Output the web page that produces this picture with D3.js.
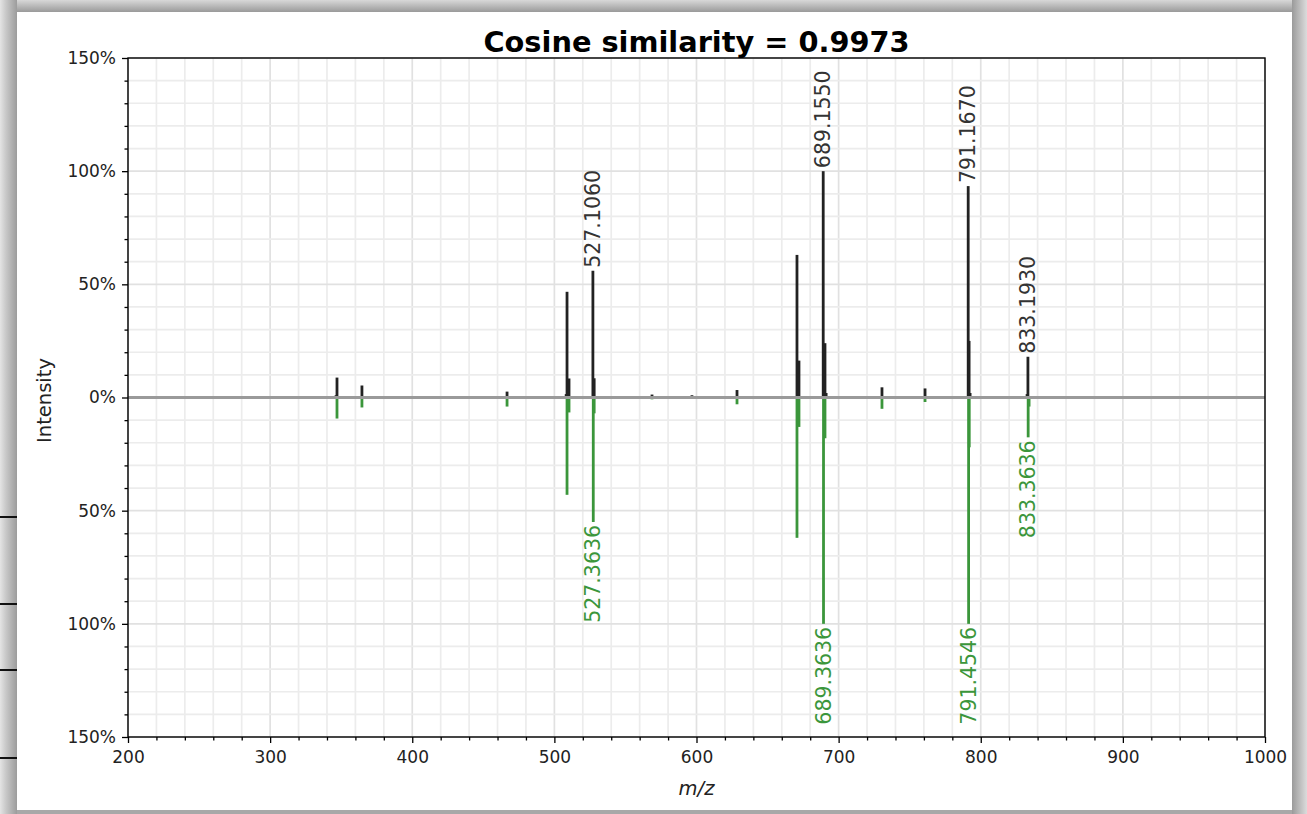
<!DOCTYPE html>
<html>
<head>
<meta charset="utf-8">
<script src="https://cdn.jsdelivr.net/npm/d3@7"></script>
<style>
  html, body { margin: 0; padding: 0; background: #ffffff; }
  svg { display: block; }
  text { font-family: "DejaVu Sans", sans-serif; }
</style>
</head>
<body>
<script>
// ---------------- DATA ----------------
const title = "Cosine similarity = 0.9973";
const xLabel = "m/z";
const yLabel = "Intensity";

// top spectrum (query), m/z and relative intensity (%)
const topMz  = [346.4, 347.05, 364.6, 406.9, 466.7, 508.3, 508.9, 510.3, 527.106, 528.0, 568.7, 596.8, 628.5,
                670.7, 672.1, 689.155, 690.4, 691.2, 730.5, 760.8, 791.167, 791.8, 792.5, 805.0, 813.5, 822.0, 832.6, 833.193];
const topInt = [1.0, 8.8, 5.3, 0.5, 2.6, 1.5, 46.7, 8.4, 56.0, 8.5, 1.3, 1.0, 3.3,
                63.0, 16.3, 100.0, 24.0, 2.0, 4.5, 4.0, 93.4, 25.0, 2.0, 0.4, 0.4, 0.4, 1.5, 18.0];
const topLabelMz   = [527.106, 689.155, 791.167, 833.193];
const topLabelText = ["527.1060", "689.1550", "791.1670", "833.1930"];

// bottom spectrum (library), m/z and relative intensity (%)
const botMz  = [347.05, 364.6, 406.9, 466.7, 508.9, 510.3, 527.3636, 528.0, 568.7, 628.5,
                670.7, 672.1, 689.3636, 690.4, 730.5, 760.8, 791.4546, 791.9, 833.3636, 834.0];
const botInt = [9.3, 4.4, 0.5, 4.0, 43.0, 6.6, 55.0, 7.0, 0.8, 3.0,
                62.0, 13.0, 100.0, 18.0, 5.0, 2.0, 100.0, 22.0, 17.6, 4.0];
const botLabelMz   = [527.3636, 689.3636, 791.4546, 833.3636];
const botLabelText = ["527.3636", "689.3636", "791.4546", "833.3636"];

const xMajorTicks = [200, 300, 400, 500, 600, 700, 800, 900, 1000];
const yMajorTicks = [-150, -100, -50, 0, 50, 100, 150];

// ---------------- LAYOUT ----------------
const W = 1307, H = 814;
const plot = { left: 128, right: 1265, top: 58, bottom: 737 };
const topColor = "#222222";
const botColor = "#3b963b";

const svg = d3.select("body").append("svg").attr("width", W).attr("height", H);

// screenshot frame
const defs = svg.append("defs");
const gL = defs.append("linearGradient").attr("id", "gl").attr("x1", 0).attr("x2", 1).attr("y1", 0).attr("y2", 0);
gL.append("stop").attr("offset", 0).attr("stop-color", "#e4e4e4");
gL.append("stop").attr("offset", 0.35).attr("stop-color", "#c8c8c8");
gL.append("stop").attr("offset", 1).attr("stop-color", "#9c9c9c");
const gT = defs.append("linearGradient").attr("id", "gt").attr("x1", 0).attr("x2", 0).attr("y1", 0).attr("y2", 1);
gT.append("stop").attr("offset", 0).attr("stop-color", "#d8d8d8");
gT.append("stop").attr("offset", 1).attr("stop-color", "#9a9a9a");
const gR = defs.append("linearGradient").attr("id", "gr").attr("x1", 0).attr("x2", 1).attr("y1", 0).attr("y2", 0);
gR.append("stop").attr("offset", 0).attr("stop-color", "#9a9a9a");
gR.append("stop").attr("offset", 1).attr("stop-color", "#dcdcdc");

svg.append("rect").attr("width", W).attr("height", H).attr("fill", "#a8a8a8");
svg.append("rect").attr("x", 0).attr("y", 0).attr("width", W).attr("height", 12).attr("fill", "url(#gt)");
svg.append("rect").attr("x", 0).attr("y", 0).attr("width", 17).attr("height", H).attr("fill", "url(#gl)");
svg.append("rect").attr("x", 1292).attr("y", 0).attr("width", 15).attr("height", H).attr("fill", "url(#gr)");
// left-side page fragment rules
[517, 604, 670, 758].forEach(yy => {
  svg.append("line").attr("x1", 0).attr("x2", 17).attr("y1", yy).attr("y2", yy)
    .attr("stroke", "#111").attr("stroke-width", 2);
});

// white figure area
svg.append("rect").attr("x", 17).attr("y", 12).attr("width", 1292 - 17).attr("height", 810 - 12).attr("fill", "#ffffff");

// ---------------- SCALES ----------------
const x = d3.scaleLinear().domain([200, 1000]).range([plot.left, plot.right]);
const y = d3.scaleLinear().domain([-150, 150]).range([plot.bottom, plot.top]);

const xMinor = d3.range(200, 1000.1, 20);
const yMinor = d3.range(-150, 150.1, 10);

// grid
const grid = svg.append("g");
grid.selectAll(".gxm").data(xMinor).enter().append("line")
  .attr("x1", d => x(d)).attr("x2", d => x(d)).attr("y1", plot.top).attr("y2", plot.bottom)
  .attr("stroke", d => (d % 100 === 0 ? "#e1e1e1" : "#ececec")).attr("stroke-width", 1.7);
grid.selectAll(".gym").data(yMinor).enter().append("line")
  .attr("y1", d => y(d)).attr("y2", d => y(d)).attr("x1", plot.left).attr("x2", plot.right)
  .attr("stroke", d => (d % 50 === 0 ? "#e1e1e1" : "#ececec")).attr("stroke-width", 1.7);

// peaks
const peaks = svg.append("g");
peaks.selectAll(".tp").data(topMz.map((m, i) => [m, topInt[i]])).enter().append("line")
  .attr("x1", d => x(d[0])).attr("x2", d => x(d[0]))
  .attr("y1", y(0)).attr("y2", d => y(d[1]))
  .attr("stroke", topColor).attr("stroke-width", 2.8);
peaks.selectAll(".bp").data(botMz.map((m, i) => [m, botInt[i]])).enter().append("line")
  .attr("x1", d => x(d[0])).attr("x2", d => x(d[0]))
  .attr("y1", y(0)).attr("y2", d => y(-d[1]))
  .attr("stroke", botColor).attr("stroke-width", 2.8);

// zero line
svg.append("line").attr("x1", plot.left).attr("x2", plot.right).attr("y1", y(0)).attr("y2", y(0))
  .attr("stroke", "#9a9a9a").attr("stroke-width", 2.8);

// peak labels
const labFont = 20.5;
topLabelMz.forEach((m, i) => {
  const idx = topMz.indexOf(m);
  const px = x(m), py = y(topInt[idx]) - 3;
  svg.append("text")
    .attr("transform", `translate(${px},${py}) rotate(-90)`)
    .attr("text-anchor", "start").attr("dominant-baseline", "central")
    .attr("font-size", labFont).attr("fill", "#333333")
    .text(topLabelText[i]);
});
botLabelMz.forEach((m, i) => {
  const idx = botMz.indexOf(m);
  const px = x(m), py = y(-botInt[idx]) + 3;
  svg.append("text")
    .attr("transform", `translate(${px},${py}) rotate(-90)`)
    .attr("text-anchor", "end").attr("dominant-baseline", "central")
    .attr("font-size", labFont).attr("fill", botColor)
    .text(botLabelText[i]);
});

// axes
const xAxis = svg.append("g").attr("transform", `translate(0,${plot.bottom})`)
  .call(d3.axisBottom(x).tickValues(xMajorTicks).tickFormat(d3.format("d")).tickSize(6).tickPadding(5));
const xAxisMinor = svg.append("g").attr("transform", `translate(0,${plot.bottom})`)
  .call(d3.axisBottom(x).tickValues(xMinor.filter(d => d % 100 !== 0)).tickFormat("").tickSize(3.5));
const yAxis = svg.append("g").attr("transform", `translate(${plot.left},0)`)
  .call(d3.axisLeft(y).tickValues(yMajorTicks).tickFormat(d => Math.abs(d) + "%").tickSize(6).tickPadding(6));
const yAxisMinor = svg.append("g").attr("transform", `translate(${plot.left},0)`)
  .call(d3.axisLeft(y).tickValues(yMinor.filter(d => d % 50 !== 0)).tickFormat("").tickSize(3.5));

[xAxis, xAxisMinor, yAxis, yAxisMinor].forEach(g => {
  g.select(".domain").remove();
  g.selectAll(".tick line").attr("stroke", "#000").attr("stroke-width", 1.3);
  g.selectAll(".tick text").attr("font-family", "DejaVu Sans, sans-serif").attr("font-size", 17).attr("fill", "#222");
});
xAxis.selectAll(".tick text").attr("dy", "0.9em");

// box
svg.append("rect").attr("x", plot.left).attr("y", plot.top)
  .attr("width", plot.right - plot.left).attr("height", plot.bottom - plot.top)
  .attr("fill", "none").attr("stroke", "#000").attr("stroke-width", 1.4);

// titles
svg.append("text").attr("x", (plot.left + plot.right) / 2).attr("y", 52)
  .attr("text-anchor", "middle").attr("font-size", 28.8).attr("font-weight", "bold").attr("fill", "#000")
  .text(title);
svg.append("text").attr("x", (plot.left + plot.right) / 2).attr("y", 795)
  .attr("text-anchor", "middle").attr("font-size", 19.5).attr("font-style", "italic").attr("fill", "#222")
  .text(xLabel);
svg.append("text").attr("transform", `translate(51,${y(0) + 3}) rotate(-90)`)
  .attr("text-anchor", "middle").attr("font-size", 19.5).attr("fill", "#222")
  .text(yLabel);
</script>
</body>
</html>
